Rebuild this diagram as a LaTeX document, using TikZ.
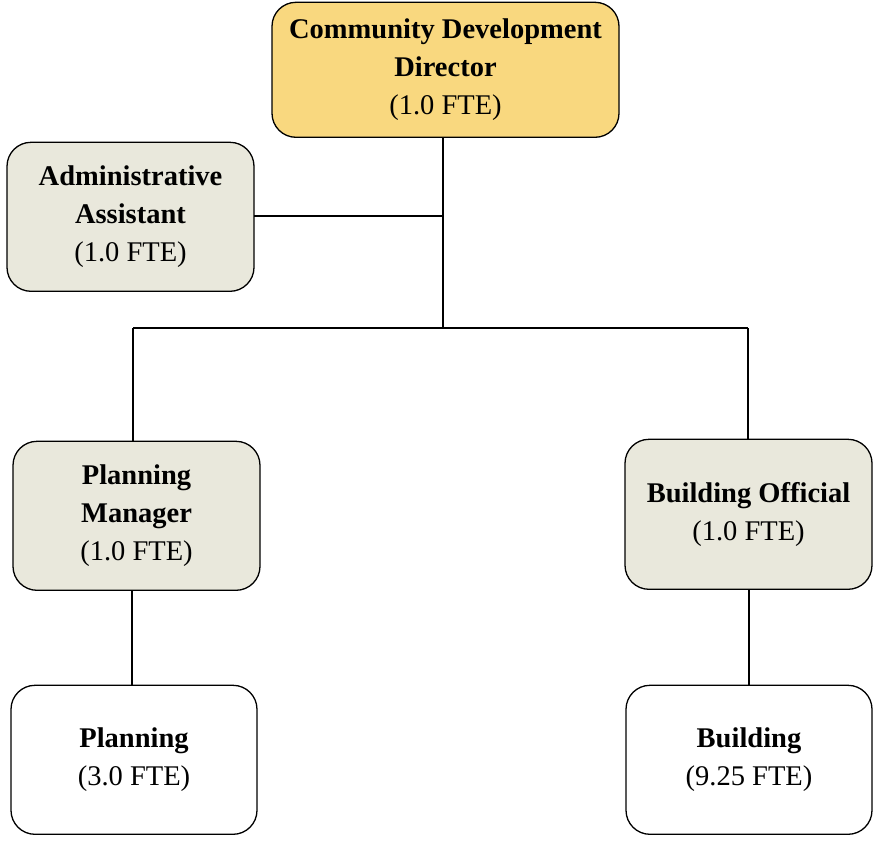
\documentclass[tikz,border=0pt]{standalone}
\usepackage{fontspec}
\setmainfont{Liberation Serif}
\definecolor{diryellow}{HTML}{F9D87F}
\definecolor{boxgrey}{HTML}{E9E8DC}
\begin{document}
\begin{tikzpicture}[x=1pt,y=-1pt,
  orgbox/.style={draw=black, line width=1.3pt, rounded corners=24pt, align=center,
    inner sep=0pt, font=\fontsize{28.5}{38}\selectfont},
  link/.style={draw=black, line width=1.3pt}]
\useasboundingbox (0,0) rectangle (875,846);
\node[orgbox, fill=diryellow, minimum width=347pt, minimum height=135pt] (dir) at (445.5,69.8)
  {\textbf{Community Development}\\\textbf{Director}\\(1.0 FTE)};
\node[orgbox, fill=boxgrey, minimum width=247pt, minimum height=149pt] (admin) at (130.5,216.8)
  {\textbf{Administrative}\\\textbf{Assistant}\\(1.0 FTE)};
\node[orgbox, fill=boxgrey, minimum width=247pt, minimum height=149pt] (pm) at (136.5,515.8)
  {\textbf{Planning}\\\textbf{Manager}\\(1.0 FTE)};
\node[orgbox, fill=boxgrey, minimum width=247pt, minimum height=150pt] (bo) at (748.5,514.3)
  {\textbf{Building Official}\\(1.0 FTE)};
\node[orgbox, fill=white, minimum width=246pt, minimum height=149pt] (pl) at (134,759.8)
  {\textbf{Planning}\\(3.0 FTE)};
\node[orgbox, fill=white, minimum width=246pt, minimum height=149pt] (bu) at (749,759.8)
  {\textbf{Building}\\(9.25 FTE)};
\coordinate (bus) at (443,328);
\coordinate (top) at (443,137);
\draw[link] (top) -- (bus);
\draw[link] (254,216) coordinate (adminr) -- (adminr -| top);
\draw[link] (133,328) coordinate (busL) -- (748,328) coordinate (busR);
\draw[link] (busL) -- (busL |- pm.north);
\draw[link] (busR) -- (busR |- bo.north);
\draw[link] (pm.south -| 132,0) coordinate (pmb) -- (pmb |- pl.north);
\draw[link] (bo.south -| 749,0) coordinate (bob) -- (bob |- bu.north);
\end{tikzpicture}
\end{document}
